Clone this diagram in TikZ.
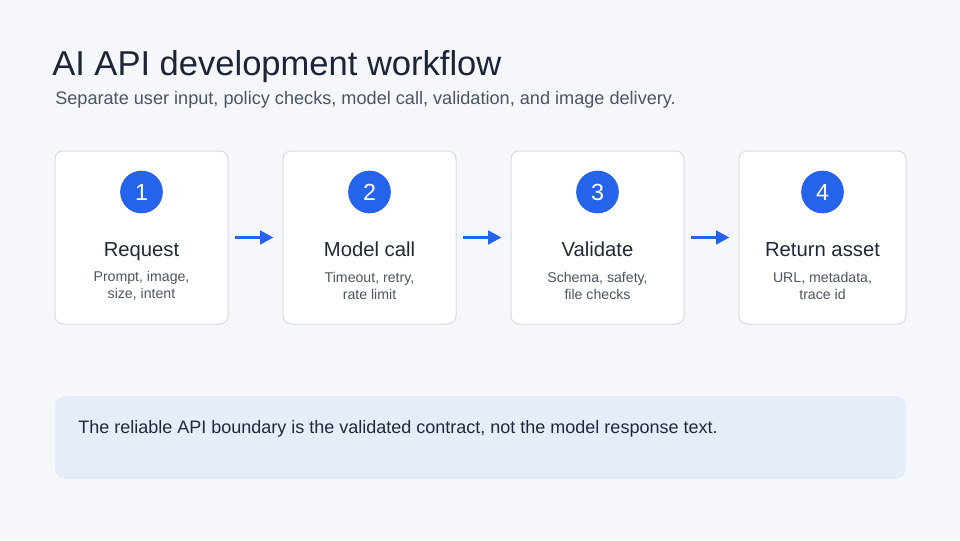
\documentclass[tikz,border=0pt]{standalone}
\usepackage{fontspec}
\setmainfont{Liberation Sans}
\usetikzlibrary{arrows.meta,positioning}
\definecolor{pagebg}{HTML}{F5F7FB}
\definecolor{cardline}{HTML}{D6DBE3}
\definecolor{stepblue}{HTML}{2563EB}
\definecolor{titleink}{HTML}{1B2537}
\definecolor{bodyink}{HTML}{1F2937}
\definecolor{greyink}{HTML}{4B5563}
\definecolor{notefill}{HTML}{E6EDFA}
\begin{document}
\begin{tikzpicture}[x=0.75pt,y=-0.75pt,
  card/.style={draw=cardline, fill=white, rounded corners=6pt, line width=0.75pt, minimum height=129.75pt},
  num/.style={circle, fill=stepblue, text=white, minimum size=32pt, inner sep=0pt, font=\fontsize{17.5}{20}\selectfont},
  ttl/.style={anchor=base, text=bodyink, font=\fontsize{15.2}{18}\selectfont},
  desc/.style={text=greyink, align=center, font=\fontsize{10.6}{12.75}\selectfont},
  flow/.style={draw=stepblue, line width=2.25pt, -{Triangle[length=10pt,width=10pt]}, shorten <=4.5pt, shorten >=6.75pt}]
  \fill[pagebg] (0,0) rectangle (960,540);
  \useasboundingbox (0,0) rectangle (960,540);
  % heading
  \node[anchor=base west, inner sep=0pt, text=titleink, font=\fontsize{25.9}{31}\selectfont] (head) at (52,75) {AI API development workflow};
  \node[anchor=base west, inner sep=0pt, text=greyink, font=\fontsize{13.6}{16}\selectfont] (lead) at (55,104) {Separate user input, policy checks, model call, validation, and image delivery.};
  % steps
  \foreach \i/\x/\w/\name/\txt in {1/141.5/173/Request/{Prompt, image,\\size, intent},
      2/369.5/173/Model call/{Timeout, retry,\\rate limit},
      3/597.5/173/Validate/{Schema, safety,\\file checks},
      4/822.5/167/Return asset/{URL, metadata,\\trace id}} {
    \node[card, minimum width=\w*0.75pt] (c\i) at (\x,237.5) {};
    \node[num] (n\i) at (\x,192) {\i};
    \node[ttl] (t\i) at (\x,256) {\name};
    \node[desc] (d\i) at (\x,286) {\txt};
  }
  \foreach \a/\b in {1/2,2/3,3/4} \draw[flow] (c\a) -- (c\b);
  % takeaway
  \node[fill=notefill, rounded corners=8pt, minimum width=638.25pt, minimum height=62.25pt] (note) at (480.5,437.5) {};
  \node[anchor=base west, inner sep=0pt, text=bodyink, font=\fontsize{13.5}{16}\selectfont] (notetxt) at (78,433) {The reliable API boundary is the validated contract, not the model response text.};
\end{tikzpicture}
\end{document}
